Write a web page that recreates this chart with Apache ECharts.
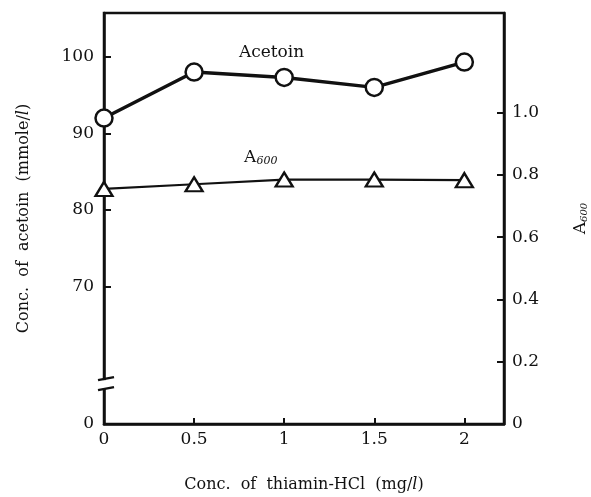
<!DOCTYPE html>
<html>
<head>
<meta charset="utf-8">
<script src="https://cdn.jsdelivr.net/npm/echarts@6/dist/echarts.min.js"></script>
<style>
  html, body { margin: 0; padding: 0; background: #fff; }
  #chart { width: 591px; height: 497px; }
</style>
</head>
<body>
<div id="chart"></div>
<script>
// data
var thiamin = [0, 0.5, 1, 1.5, 2];
var acetoin = [92.0, 98.0, 97.3, 96.0, 99.3];
var a600 = [0.755, 0.77, 0.785, 0.785, 0.783];

var xTicks = [0, 0.5, 1, 1.5, 2];
var leftTicks = [70, 80, 90, 100];
var rightTicks = [0, 0.2, 0.4, 0.6, 0.8, 1.0];
var leftBottom = 52.1; // left axis is broken, bottom edge is labelled 0
var breakAt = 57.3;

var ink = "#111";
var font = "DejaVu Serif";

var chart = echarts.init(document.getElementById("chart"));

var option = {
  animation: false,
  backgroundColor: "#fff",
  grid: {
    left: 104,
    right: 87,
    top: 13,
    bottom: 73,
    outerBoundsMode: "none",
    containLabel: false,
    show: true,
    borderColor: ink,
    borderWidth: 2.5,
    backgroundColor: "transparent"
  },
  xAxis: {
    type: "value",
    min: 0,
    max: 2.22,
    name: "Conc.  of  thiamin-HCl  (mg/{i|l})",
    nameLocation: "middle",
    nameGap: 53,
    nameTextStyle: {
      color: ink, fontFamily: font, fontSize: 16,
      rich: { i: { fontStyle: "italic", fontFamily: font, fontSize: 16, color: ink } }
    },
    axisLine: { lineStyle: { color: ink, width: 2.5 } },
    axisTick: { inside: true, length: 6, customValues: xTicks, lineStyle: { color: ink, width: 2 } },
    axisLabel: {
      customValues: xTicks,
      margin: 7,
      color: ink, fontFamily: font, fontSize: 17,
      formatter: function (v) { return String(v); }
    },
    splitLine: { show: false }
  },
  yAxis: [
    {
      type: "value",
      position: "left",
      min: leftBottom,
      max: 105.7,
      name: "Conc.  of  acetoin  (mmole/{i|l})",
      nameLocation: "middle",
      nameRotate: 90,
      nameGap: 72,
      nameTextStyle: {
        color: ink, fontFamily: font, fontSize: 16,
        rich: { i: { fontStyle: "italic", fontFamily: font, fontSize: 16, color: ink } }
      },
      axisLine: { show: true, lineStyle: { color: ink, width: 2.5 } },
      axisTick: { inside: true, length: 7, customValues: leftTicks, lineStyle: { color: ink, width: 2 } },
      axisLabel: {
        customValues: [leftBottom].concat(leftTicks),
        margin: 10,
        color: ink, fontFamily: font, fontSize: 17,
        formatter: function (v) { return v === leftBottom ? "0" : String(v); }
      },
      splitLine: { show: false }
    },
    {
      type: "value",
      position: "right",
      min: 0,
      max: 1.32,
      name: "{a|A}{s|600}",
      nameLocation: "middle",
      nameRotate: 90,
      nameGap: 68,
      nameTextStyle: {
        color: ink,
        rich: {
          a: { fontFamily: font, fontSize: 17, color: ink, verticalAlign: "bottom" },
          s: { fontFamily: font, fontSize: 10, color: ink, verticalAlign: "bottom", fontStyle: "italic" }
        }
      },
      axisLine: { show: true, lineStyle: { color: ink, width: 2.5 } },
      axisTick: { inside: true, length: 7, customValues: rightTicks, lineStyle: { color: ink, width: 2 } },
      axisLabel: {
        customValues: rightTicks,
        margin: 8,
        color: ink, fontFamily: font, fontSize: 17,
        formatter: function (v) { return v === 0 ? "0" : v.toFixed(1); }
      },
      splitLine: { show: false }
    }
  ],
  series: [
    {
      name: "Acetoin",
      type: "line",
      yAxisIndex: 0,
      data: thiamin.map(function (x, i) { return [x, acetoin[i]]; }),
      symbol: "circle",
      symbolSize: 17,
      showAllSymbol: true,
      lineStyle: { color: ink, width: 3.5 },
      itemStyle: { color: "#fff", borderColor: ink, borderWidth: 2.5 },
      z: 3
    },
    {
      name: "A600",
      type: "line",
      yAxisIndex: 1,
      data: thiamin.map(function (x, i) { return [x, a600[i]]; }),
      symbol: "triangle",
      symbolSize: [17, 14],
      showAllSymbol: true,
      lineStyle: { color: ink, width: 2.2 },
      itemStyle: { color: "#fff", borderColor: ink, borderWidth: 2.3 },
      z: 3
    }
  ]
};

chart.setOption(option);

// annotations and the axis-break marks, placed through the axes
var brk = chart.convertToPixel({ xAxisIndex: 0, yAxisIndex: 0 }, [0, breakAt]);
var acetoinLbl = chart.convertToPixel({ xAxisIndex: 0, yAxisIndex: 0 }, [0.93, 100.6]);
var a600Lbl = chart.convertToPixel({ xAxisIndex: 0, yAxisIndex: 1 }, [0.87, 0.855]);

chart.setOption({
  graphic: [
    {
      type: "rect",
      shape: { x: brk[0] - 3, y: brk[1] - 4, width: 6, height: 8 },
      style: { fill: "#fff" },
      z: 10
    },
    {
      type: "line",
      shape: { x1: brk[0] - 6, y1: brk[1] - 4, x2: brk[0] + 10, y2: brk[1] - 7 },
      style: { stroke: ink, lineWidth: 2.5 },
      z: 11
    },
    {
      type: "line",
      shape: { x1: brk[0] - 6, y1: brk[1] + 6, x2: brk[0] + 10, y2: brk[1] + 3 },
      style: { stroke: ink, lineWidth: 2.5 },
      z: 11
    },
    {
      type: "text",
      x: acetoinLbl[0],
      y: acetoinLbl[1],
      style: {
        text: "Acetoin",
        fill: ink,
        font: "17px '" + font + "'",
        align: "center",
        verticalAlign: "middle"
      },
      z: 11
    },
    {
      type: "text",
      x: a600Lbl[0],
      y: a600Lbl[1],
      style: {
        text: "{a|A}{s|600}",
        align: "center",
        verticalAlign: "middle",
        rich: {
          a: { fontFamily: font, fontSize: 17, fill: ink, verticalAlign: "bottom" },
          s: { fontFamily: font, fontSize: 11, fill: ink, fontStyle: "italic", verticalAlign: "bottom" }
        }
      },
      z: 11
    }
  ]
});
</script>
</body>
</html>
